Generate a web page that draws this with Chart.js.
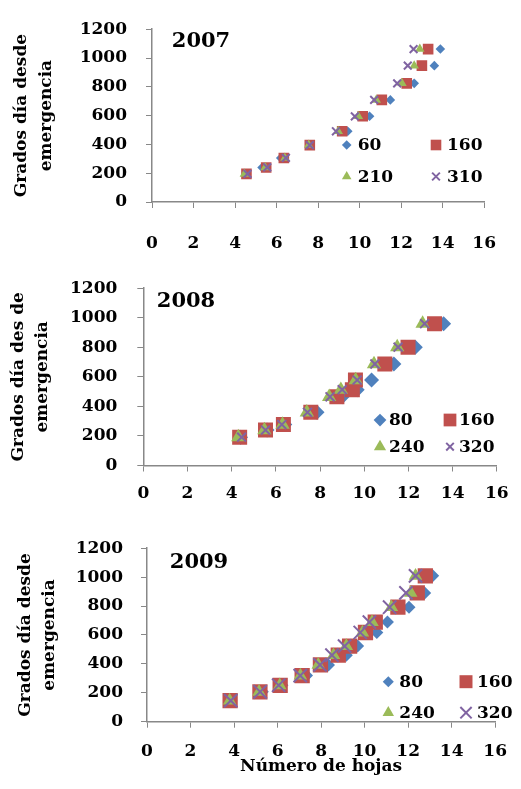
<!DOCTYPE html>
<html>
<head>
  <meta charset="utf-8">
  <title>Grados día desde emergencia vs número de hojas</title>
  <script src="https://cdn.jsdelivr.net/npm/chart.js@4.4.0/dist/chart.umd.min.js"></script>
  <style>
    body { margin: 0; background: #fff; }
    #wrap { position: relative; width: 521px; height: 789px; }
    canvas { position: absolute; left: 0; }
  </style>
</head>
<body>
  <div id="wrap">
    <canvas id="chart2007" width="521" height="258" style="top:0px"></canvas>
    <canvas id="chart2008" width="521" height="262" style="top:258px"></canvas>
    <canvas id="chart2009" width="521" height="269" style="top:520px"></canvas>
  </div>

  <script>
    // axis ticks
    const xTicks = [0, 2, 4, 6, 8, 10, 12, 14, 16];
    const yTicks = [0, 200, 400, 600, 800, 1000, 1200];

    // 2007
    const labels2007 = ['60', '160', '210', '310'];
    const gdd2007 = [195, 240, 306, 395, 491, 595, 709, 824, 947, 1062];
    const hojas2007_60 = [4.55, 5.3, 6.2, 7.6, 9.43, 10.48, 11.48, 12.63, 13.6, 13.89];
    const hojas2007_160 = [4.55, 5.5, 6.35, 7.6, 9.16, 10.15, 11.07, 12.27, 13.0, 13.3];
    const hojas2007_210 = [4.45, 5.45, 6.4, 7.55, 8.97, 9.94, 10.8, 12.04, 12.63, 12.9];
    const hojas2007_310 = [4.6, 5.55, 6.45, 7.6, 8.86, 9.77, 10.7, 11.81, 12.32, 12.6];

    // 2008
    const labels2008 = ['80', '160', '240', '320'];
    const gdd2008 = [192, 240, 277, 360, 465, 513, 578, 687, 801, 960];
    const hojas2008_80 = [4.4, 5.6, 6.4, 7.86, 9.0, 9.68, 10.33, 11.34, 12.31, 13.59];
    const hojas2008_160 = [4.36, 5.53, 6.34, 7.58, 8.76, 9.46, 9.6, 10.93, 11.98, 13.18];
    const hojas2008_240 = [4.3, 5.48, 6.3, 7.4, 8.41, 8.94, 9.61, 10.44, 11.49, 12.64];
    const hojas2008_320 = [4.45, 5.53, 6.27, 7.43, 8.45, 9.0, 9.68, 10.48, 11.53, 12.73];

    // 2009
    const labels2009 = ['80', '160', '240', '320'];
    const gdd2009 = [146, 207, 252, 319, 393, 460, 523, 617, 689, 792, 891, 1009];
    const hojas2009_80 = [3.85, 5.3, 6.2, 7.33, 8.34, 9.16, 9.68, 10.56, 11.05, 12.04, 12.76, 13.13];
    const hojas2009_160 = [3.82, 5.19, 6.12, 7.13, 7.97, 8.79, 9.31, 10.04, 10.49, 11.53, 12.42, 12.79];
    const hojas2009_240 = [3.8, 5.15, 6.1, 7.05, 7.87, 8.57, 9.16, 9.9, 10.34, 11.23, 12.12, 12.34];
    const hojas2009_320 = [3.85, 5.2, 6.05, 7.04, 7.95, 8.5, 9.08, 9.8, 10.22, 11.15, 11.9, 12.34];

    const FONT = '"DejaVu Serif", serif';
    const AXIS_GREY = '#888888';

    const seriesStyles = [
      { pointStyle: 'rectRot', color: '#4F81BD', order: 3 },
      { pointStyle: 'rect', color: '#C0504D', order: 2 },
      { pointStyle: 'triangle', color: '#9BBB59', order: 1 },
      { pointStyle: 'crossRot', color: '#8064A2', order: 0 }
    ];

    // draws the year label and the 2x2 legend inside the plot area
    const insideLegend = {
      id: 'insideLegend',
      afterDatasetsDraw(chart, args, opts) {
        const ctx = chart.ctx;
        ctx.save();
        ctx.fillStyle = '#000';
        ctx.textBaseline = 'middle';
        ctx.textAlign = 'center';
        ctx.font = 'bold 21px ' + FONT;
        ctx.fillText(opts.year, opts.yearX, opts.yearY);

        ctx.textAlign = 'left';
        chart.data.datasets.forEach((ds, i) => {
          const x = opts.cols[i % 2];
          const y = opts.rows[Math.floor(i / 2)];
          ctx.fillStyle = ds.backgroundColor;
          ctx.strokeStyle = ds.borderColor;
          ctx.lineWidth = ds.borderWidth;
          Chart.helpers.drawPoint(ctx, {
            pointStyle: ds.pointStyle,
            radius: ds.pointRadius * opts.markerScale,
            rotation: 0,
            borderWidth: ds.borderWidth
          }, x, y);
          ctx.fillStyle = '#000';
          ctx.font = 'bold 17px ' + FONT;
          ctx.fillText(ds.label, x + opts.gap, y + 1);
        });
        ctx.restore();
      }
    };

    function makePanel(id, labels, gdd, series, cfg) {
      const datasets = series.map((xs, i) => {
        const st = seriesStyles[i];
        return {
          label: labels[i],
          data: xs.map((x, j) => ({ x: x, y: gdd[j] })),
          pointStyle: st.pointStyle,
          backgroundColor: st.color,
          borderColor: st.color,
          borderWidth: st.pointStyle === 'crossRot' ? 2 : 0,
          pointRadius: cfg.radius[i],
          pointHoverRadius: cfg.radius[i],
          order: st.order
        };
      });

      new Chart(document.getElementById(id), {
        type: 'scatter',
        data: { datasets: datasets },
        options: {
          responsive: false,
          animation: false,
          events: [],
          layout: { padding: { top: cfg.padTop, right: cfg.padRight, left: 0, bottom: 0 } },
          plugins: {
            legend: { display: false },
            tooltip: { enabled: false },
            insideLegend: cfg.legend
          },
          scales: {
            x: {
              type: 'linear',
              min: 0,
              max: 16,
              afterBuildTicks: s => { s.ticks = xTicks.map(v => ({ value: v })); },
              afterFit: s => { s.height = cfg.xHeight; },
              grid: { drawOnChartArea: false, tickLength: 6, color: AXIS_GREY },
              border: { display: true, color: AXIS_GREY, width: 1.5 },
              ticks: {
                padding: cfg.xTickPad,
                color: '#000',
                maxRotation: 0,
                callback: v => String(v),
                font: { family: FONT, size: 17, weight: 700 }
              },
              title: {
                display: cfg.xTitle,
                text: 'Número de hojas',
                color: '#000',
                padding: { top: 0, bottom: cfg.xTitlePad },
                font: { family: FONT, size: 17, weight: 700, lineHeight: '20px' }
              }
            },
            y: {
              type: 'linear',
              min: 0,
              max: 1200,
              afterBuildTicks: s => { s.ticks = yTicks.map(v => ({ value: v })); },
              afterFit: s => { s.width = cfg.yWidth; },
              grid: { drawOnChartArea: false, tickLength: 6, color: AXIS_GREY },
              border: { display: true, color: AXIS_GREY, width: 1.5 },
              ticks: {
                padding: cfg.yTickPad,
                color: '#000',
                callback: v => String(v),
                font: { family: FONT, size: 17, weight: 700 }
              },
              title: {
                display: true,
                text: cfg.yTitle,
                color: '#000',
                padding: { top: cfg.yTitlePad, bottom: 0 },
                font: { family: FONT, size: 17, weight: 700, lineHeight: cfg.yTitleLH }
              }
            }
          }
        },
        plugins: [insideLegend]
      });
    }

    makePanel('chart2007', labels2007, gdd2007,
      [hojas2007_60, hojas2007_160, hojas2007_210, hojas2007_310], {
        radius: [4.8, 7.5, 5.5, 5.5],
        padTop: 22, padRight: 22, yWidth: 152, xHeight: 56,
        yTickPad: 19, xTickPad: 25, xTitle: false, xTitlePad: 0,
        yTitle: ['Grados día desde', 'emergencia'], yTitlePad: 9.5, yTitleLH: '25px',
        legend: { year: '2007', yearX: 201, yearY: 42, cols: [346.7, 436], rows: [145, 176.5], gap: 11, markerScale: 1 }
      });

    makePanel('chart2008', labels2008, gdd2008,
      [hojas2008_80, hojas2008_160, hojas2008_240, hojas2008_320], {
        radius: [7.5, 10.6, 8.3, 6.3],
        padTop: 23.7, padRight: 22.7, yWidth: 143.3, xHeight: 54.5,
        yTickPad: 20, xTickPad: 12.3, xTitle: false, xTitlePad: 0,
        yTitle: ['Grados día des de', 'emergencia'], yTitlePad: 7, yTitleLH: '24px',
        legend: { year: '2008', yearX: 186, yearY: 44, cols: [380, 450], rows: [162, 188.7], gap: 9, markerScale: 0.85 }
      });

    makePanel('chart2009', labels2009, gdd2009,
      [hojas2009_80, hojas2009_160, hojas2009_240, hojas2009_320], {
        radius: [6.5, 10.8, 7.8, 9.4],
        padTop: 23.3, padRight: 14, yWidth: 147, xHeight: 67.3,
        yTickPad: 18, xTickPad: 14, xTitle: true, xTitlePad: 12,
        yTitle: ['Grados día desde', 'emergencia'], yTitlePad: 14, yTitleLH: '24px',
        legend: { year: '2009', yearX: 199, yearY: 43, cols: [388.3, 466], rows: [161.7, 192.7], gap: 11, markerScale: 0.85 }
      });
  </script>
</body>
</html>
